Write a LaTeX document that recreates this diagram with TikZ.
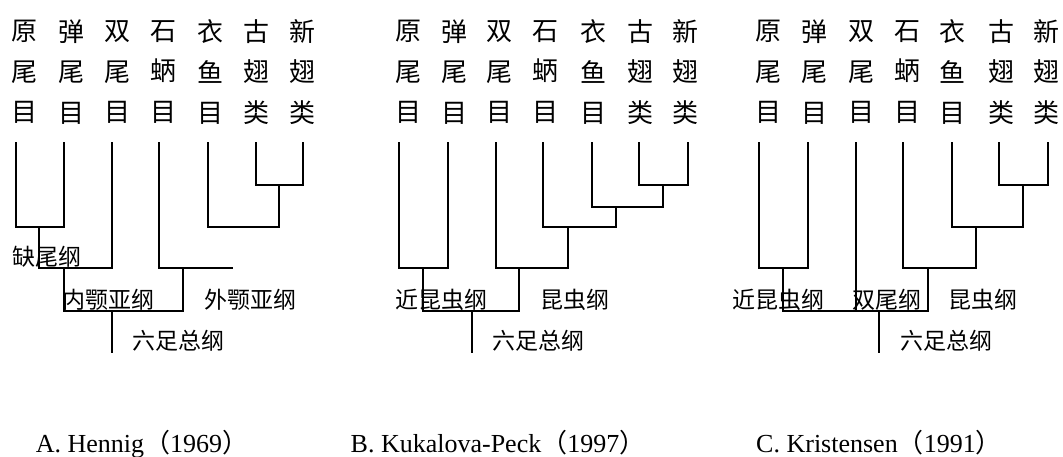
\documentclass[tikz,border=0pt]{standalone}
\usepackage{fontspec}
\setmainfont{Liberation Serif}
\newfontfamily\cjk{Noto Sans CJK SC}
\begin{document}
\begin{tikzpicture}[x=1pt,y=-1pt,
  branch/.style={line width=1.9pt, line cap=rect},
  taxon/.style={inner sep=0pt, align=center, font=\cjk\fontsize{26}{40.5}\selectfont},
  clade/.style={inner sep=0pt, font=\cjk\fontsize{23}{23}\selectfont},
  caption/.style={inner sep=0pt, anchor=base, font=\fontsize{26}{26}\selectfont}]
\useasboundingbox (0,0) rectangle (1063,456);

% ---------------- A. Hennig ----------------
\node[taxon] (ta1) at (24,72)  {原\\尾\\目};
\node[taxon] (ta2) at (71,72)  {弹\\尾\\目};
\node[taxon] (ta3) at (117,72) {双\\尾\\目};
\node[taxon] (ta4) at (163,72) {石\\蛃\\目};
\node[taxon] (ta5) at (210,72) {衣\\鱼\\目};
\node[taxon] (ta6) at (256,72) {古\\翅\\类};
\node[taxon] (ta7) at (302,72) {新\\翅\\类};

\coordinate (a1) at (16,143);
\coordinate (a2) at (64,143);
\coordinate (a3) at (112,143);
\coordinate (a4) at (159,143);
\coordinate (a5) at (208,143);
\coordinate (a6) at (256,143);
\coordinate (a7) at (303,143);
\coordinate (aj1) at (39,227);
\coordinate (aj2) at (64,268);
\coordinate (aj3) at (183,268);
\coordinate (aend) at (232,268);
\coordinate (ajP) at (279,185);
\coordinate (ajQ) at (279,227);
\coordinate (aroot) at (112,311);
\coordinate (abase) at (112,352);

\draw[branch] (a1) |- (aj1) -| (a2);
\draw[branch] (aj1) |- (aj2) -| (a3);
\draw[branch] (a4) |- (aj3) -- (aend);
\draw[branch] (a6) |- (ajP) -| (a7);
\draw[branch] (a5) |- (ajQ) -- (ajP);
\draw[branch] (aj2) |- (aroot) -| (aj3);
\draw[branch] (aroot) -- (abase);

\node[clade] (la1) at (47,257)  {缺尾纲};
\node[clade] (la2) at (108,300) {内颚亚纲};
\node[clade] (la3) at (250,300) {外颚亚纲};
\node[clade] (la4) at (178,341) {六足总纲};

\node[caption] (capA) at (142,452) {A. Hennig{\cjk（}1969{\cjk）}};

% ---------------- B. Kukalova-Peck ----------------
\node[taxon] (tb1) at (408,72) {原\\尾\\目};
\node[taxon] (tb2) at (454,72) {弹\\尾\\目};
\node[taxon] (tb3) at (499,72) {双\\尾\\目};
\node[taxon] (tb4) at (545,72) {石\\蛃\\目};
\node[taxon] (tb5) at (593,72) {衣\\鱼\\目};
\node[taxon] (tb6) at (640,72) {古\\翅\\类};
\node[taxon] (tb7) at (685,72) {新\\翅\\类};

\coordinate (b1) at (399,143);
\coordinate (b2) at (448,143);
\coordinate (b3) at (496,143);
\coordinate (b4) at (543,143);
\coordinate (b5) at (592,143);
\coordinate (b6) at (639,143);
\coordinate (b7) at (688,143);
\coordinate (bj1) at (663,185);
\coordinate (bj2) at (616,207);
\coordinate (bj3) at (568,227);
\coordinate (bj4) at (519,268);
\coordinate (bj5) at (423,268);
\coordinate (broot) at (472,311);
\coordinate (bbase) at (472,352);

\draw[branch] (b6) |- (bj1) -| (b7);
\draw[branch] (b5) |- (bj2) -| (bj1);
\draw[branch] (b4) |- (bj3) -| (bj2);
\draw[branch] (b3) |- (bj4) -| (bj3);
\draw[branch] (b1) |- (bj5) -| (b2);
\draw[branch] (bj5) |- (broot) -| (bj4);
\draw[branch] (broot) -- (bbase);

\node[clade] (lb1) at (441,300) {近昆虫纲};
\node[clade] (lb2) at (575,300) {昆虫纲};
\node[clade] (lb3) at (538,341) {六足总纲};

\node[caption] (capB) at (498,452) {B. Kukalova-Peck{\cjk（}1997{\cjk）}};

% ---------------- C. Kristensen ----------------
\node[taxon] (tc1) at (768,72)  {原\\尾\\目};
\node[taxon] (tc2) at (814,72)  {弹\\尾\\目};
\node[taxon] (tc3) at (861,72)  {双\\尾\\目};
\node[taxon] (tc4) at (907,72)  {石\\蛃\\目};
\node[taxon] (tc5) at (952,72)  {衣\\鱼\\目};
\node[taxon] (tc6) at (1001,72) {古\\翅\\类};
\node[taxon] (tc7) at (1046,72) {新\\翅\\类};

\coordinate (c1) at (759,143);
\coordinate (c2) at (808,143);
\coordinate (c3) at (856,143);
\coordinate (c4) at (903,143);
\coordinate (c5) at (952,143);
\coordinate (c6) at (999,143);
\coordinate (c7) at (1048,143);
\coordinate (cj1) at (1023,185);
\coordinate (cj2) at (976,227);
\coordinate (cj3) at (928,268);
\coordinate (cj4) at (783,268);
\coordinate (cm) at (856,311);
\coordinate (croot) at (879,311);
\coordinate (cbase) at (879,352);

\draw[branch] (c6) |- (cj1) -| (c7);
\draw[branch] (c5) |- (cj2) -| (cj1);
\draw[branch] (c4) |- (cj3) -| (cj2);
\draw[branch] (c1) |- (cj4) -| (c2);
\draw[branch] (cj4) |- (croot) -| (cj3);
\draw[branch] (c3) -- (cm);
\draw[branch] (croot) -- (cbase);

\node[clade] (lc1) at (778,300) {近昆虫纲};
\node[clade] (lc2) at (887,300) {双尾纲};
\node[clade] (lc3) at (983,300) {昆虫纲};
\node[clade] (lc4) at (946,341) {六足总纲};

\node[caption] (capC) at (879,452) {C. Kristensen{\cjk（}1991{\cjk）}};
\end{tikzpicture}
\end{document}
